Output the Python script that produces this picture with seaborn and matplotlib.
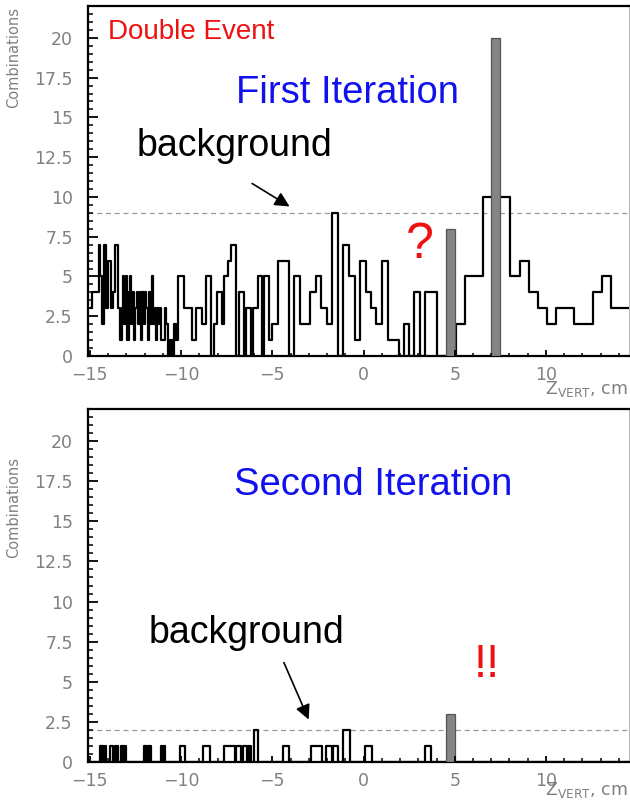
import numpy as np
import pandas as pd
import seaborn as sns
import matplotlib.pyplot as plt
from matplotlib.ticker import MultipleLocator

# ---- data ----
# first iteration: step histogram (bin edges + counts)
top_edges = [-15.0, -14.9, -14.5, -14.42, -14.35, -14.25, -14.1, -14.0, -13.85, -13.75,
             -13.6, -13.45, -13.35,
             -13.25, -13.175, -13.10, -13.025, -12.95, -12.875, -12.80, -12.725, -12.65, -12.575,
             -12.50, -12.425, -12.35, -12.275, -12.20, -12.125, -12.05, -11.975, -11.90, -11.825,
             -11.75, -11.675, -11.60, -11.525, -11.45, -11.375, -11.30, -11.225, -11.15, -11.075,
             -11.0, -10.9, -10.8, -10.7, -10.6, -10.5, -10.4, -10.25, -10.15, -9.85,
             -9.39, -9.17, -8.84, -8.62, -8.35, -8.17, -8.04, -7.77, -7.62, -7.44,
             -7.26, -6.99, -6.84, -6.57, -6.44, -6.17, -6.04, -5.80, -5.57, -5.44,
             -5.20, -5.02, -4.71, -4.08, -3.80, -3.47, -2.92, -2.61, -2.31, -2.02,
             -1.71, -1.38, -1.11, -0.80, -0.49, -0.20, 0.11, 0.42, 0.71, 1.02,
             1.33, 1.93, 2.21, 2.52, 2.79, 3.08, 3.39, 4.03, 5.05, 5.55,
             6.55, 8.05, 8.55, 9.05, 9.55, 10.05, 10.55, 11.55, 12.55, 13.05,
             13.55, 14.6]
top_counts = [3, 4, 7, 5, 2, 7, 3, 6, 3, 4,
              7, 3, 1,
              3, 5, 2, 5, 1, 4, 5, 2, 4, 1,
              3, 4, 2, 4, 1, 4, 2, 4, 3, 1,
              4, 2, 5, 2, 3, 1, 3, 2, 3, 1,
              1, 3, 2, 0, 1, 0, 2, 1, 5, 3,
              1, 3, 2, 5, 0, 2, 4, 2, 5, 6,
              7, 0, 4, 0, 3, 0, 3, 5, 0, 5,
              1, 2, 6, 0, 5, 2, 4, 5, 3, 2,
              9, 0, 7, 5, 1, 6, 4, 3, 2, 6,
              1, 0, 2, 0, 4, 0, 4, 0, 2, 5,
              10, 5, 6, 4, 3, 2, 3, 2, 4, 5,
              3]
top_peak_lo = [4.5, 7.0]
top_peak_hi = [5.0, 7.5]
top_peak_counts = [8, 20]
top_background = 9

# second iteration
bot_edges = [-15.0, -14.45, -14.40, -14.37, -14.30, -14.27, -14.20, -14.17, -14.09, -13.91,
             -13.73, -13.63, -13.55, -13.53, -13.45, -13.31, -13.25, -13.22, -13.12, -13.09,
             -13.0, -12.05, -11.98, -11.95, -11.86, -11.83, -11.72, -11.69, -11.64, -11.08,
             -11.02, -10.99, -10.9, -10.05, -9.81, -8.8, -8.44, -7.67, -7.02, -6.98,
             -6.72, -6.63, -6.40, -6.35, -6.27, -6.24, -6.17, -5.99, -5.80, -4.44,
             -4.11, -2.89, -2.29, -2.04, -1.72, -1.69, -1.38, -1.10, -0.76, 0.10,
             0.47, 3.39, 3.72, 14.6]
bot_counts = [0, 1, 0, 1, 0, 1, 0, 1, 0, 1,
              0, 1, 0, 1, 0, 1, 0, 1, 0, 1,
              0, 1, 0, 1, 0, 1, 0, 1, 0, 1,
              0, 1, 0, 1, 0, 1, 0, 1, 0, 1,
              0, 1, 0, 1, 0, 1, 0, 2, 0, 1,
              0, 1, 0, 1, 0, 1, 0, 2, 0, 1,
              0, 1, 0]
bot_peak_lo = [4.5]
bot_peak_hi = [5.0]
bot_peak_counts = [3]
bot_background = 2

y_ticks = [0, 2.5, 5, 7.5, 10, 12.5, 15, 17.5, 20]
y_tick_labels = ["0", "2.5", "5", "7.5", "10", "12.5", "15", "17.5", "20"]
x_ticks = [-15, -10, -5, 0, 5, 10]
x_tick_labels = ["\u221215", "\u221210", "\u22125", "0", "5", "10"]

sns.set_theme(style="white")
plt.rcParams['font.family'] = ['Liberation Sans', 'DejaVu Sans']

AXIS_GRAY = "#808080"
AXIS_FONT = ['DejaVu Sans']


def draw_ticks(ax):
    # inward ROOT-style ticks drawn as short lines at the locator positions
    x0, x1 = ax.get_xlim()
    y0, y1 = ax.get_ylim()
    xmaj = [v for v in ax.xaxis.get_majorticklocs() if x0 <= v <= x1]
    xmin = [v for v in ax.xaxis.get_minorticklocs() if x0 <= v <= x1]
    ymaj = [v for v in ax.yaxis.get_majorticklocs() if y0 <= v <= y1]
    ymin = [v for v in ax.yaxis.get_minorticklocs() if y0 <= v <= y1]
    xt = ax.get_xaxis_transform()
    yt = ax.get_yaxis_transform()
    ax.vlines(xmaj, 0, 0.018, transform=xt, color="black", lw=1.3, zorder=6, clip_on=False)
    ax.vlines(xmin, 0, 0.010, transform=xt, color="black", lw=1.1, zorder=6, clip_on=False)
    ax.hlines(ymaj, 0, 0.019, transform=yt, color="black", lw=1.3, zorder=6, clip_on=False)
    ax.hlines(ymin, 0, 0.0095, transform=yt, color="black", lw=1.1, zorder=6, clip_on=False)


def draw_panel(ax, edges, counts, peak_lo, peak_hi, peak_counts, bg_level):
    e = np.array(edges)
    df = pd.DataFrame({"z": (e[:-1] + e[1:]) / 2, "n": counts})
    sns.histplot(data=df, x="z", weights="n", bins=list(edges), element="step",
                 fill=False, color="black", linewidth=1.6, ax=ax, zorder=3)
    for lo, hi, n in zip(peak_lo, peak_hi, peak_counts):
        sns.histplot(x=[(lo + hi) / 2], weights=[n], bins=[lo, hi], element="bars",
                     fill=True, color="#858585", edgecolor="#555555", linewidth=0.9,
                     alpha=1, ax=ax, zorder=4)
    ax.axhline(bg_level, color="#999999", linestyle=(0, (4, 3)), linewidth=0.9, zorder=2)

    ax.set_xlim(-15.1, 14.55)
    ax.set_ylim(0, 22)
    ax.set_xlabel("")
    ax.set_ylabel("")
    ax.set_xticks(x_ticks)
    ax.set_xticklabels(x_tick_labels, family=AXIS_FONT)
    ax.set_yticks(y_ticks)
    ax.set_yticklabels(y_tick_labels, family=AXIS_FONT)
    ax.xaxis.set_minor_locator(MultipleLocator(1))
    ax.yaxis.set_minor_locator(MultipleLocator(0.5))
    ax.tick_params(axis="both", which="both", length=0, labelcolor=AXIS_GRAY,
                   labelsize=12.5)
    ax.tick_params(axis="y", which="major", pad=11)
    ax.tick_params(axis="x", which="major", pad=7)
    draw_ticks(ax)
    for side in ["left", "bottom", "top"]:
        ax.spines[side].set_color("black")
        ax.spines[side].set_linewidth(1.6)
    ax.spines["right"].set_color("#bbbbbb")
    ax.spines["right"].set_linewidth(0.8)
    ax.set_facecolor("white")


fig = plt.figure(figsize=(6.3, 8), dpi=100)
ax1 = fig.add_axes([88 / 630, 1 - 356 / 800, 541 / 630, 350 / 800])
ax2 = fig.add_axes([88 / 630, 1 - 762 / 800, 541 / 630, 353 / 800])

draw_panel(ax1, top_edges, top_counts, top_peak_lo, top_peak_hi, top_peak_counts, top_background)
draw_panel(ax2, bot_edges, bot_counts, bot_peak_lo, bot_peak_hi, bot_peak_counts, bot_background)

arrow = dict(arrowstyle="-|>", color="black", lw=1.2, mutation_scale=22)

# annotations, top panel
fig.text(108 / 630, 1 - 32 / 800, "Double Event", color="#ee1111", fontsize=20,
         ha="left", va="center")
fig.text(348 / 630, 1 - 93 / 800, "First Iteration", color="#1111ee", fontsize=27.5,
         ha="center", va="center")
fig.text(234 / 630, 1 - 146 / 800, "background", color="black", fontsize=27,
         ha="center", va="center")
fig.text(420 / 630, 1 - 245 / 800, "?", color="#ee1111", fontsize=36,
         ha="center", va="center")
ax1.annotate("", xy=(0.377, 0.423), xytext=(0.299, 0.497), xycoords="axes fraction",
             arrowprops=arrow)

# annotations, bottom panel
fig.text(373 / 630, 1 - 485 / 800, "Second Iteration", color="#1111ee", fontsize=27.5,
         ha="center", va="center")
fig.text(246 / 630, 1 - 633 / 800, "background", color="black", fontsize=27,
         ha="center", va="center")
fig.text(487 / 630, 1 - 665 / 800, "!!", color="#ee1111", fontsize=34,
         ha="center", va="center")
ax2.annotate("", xy=(0.410, 0.113), xytext=(0.360, 0.289), xycoords="axes fraction",
             arrowprops=arrow)

# axis titles, ROOT style
for yc in [58, 508]:
    fig.text(14 / 630, 1 - yc / 800, "Combinations", color=AXIS_GRAY, fontsize=10.5,
             rotation=90, ha="center", va="center", family=AXIS_FONT)
for yc in [389, 790]:
    fig.text(628 / 630, 1 - yc / 800, r"Z$_{\mathrm{VERT}}$, cm", color=AXIS_GRAY,
             fontsize=12.5, ha="right", va="center", family=AXIS_FONT)

fig.savefig("out.png", dpi=100)
